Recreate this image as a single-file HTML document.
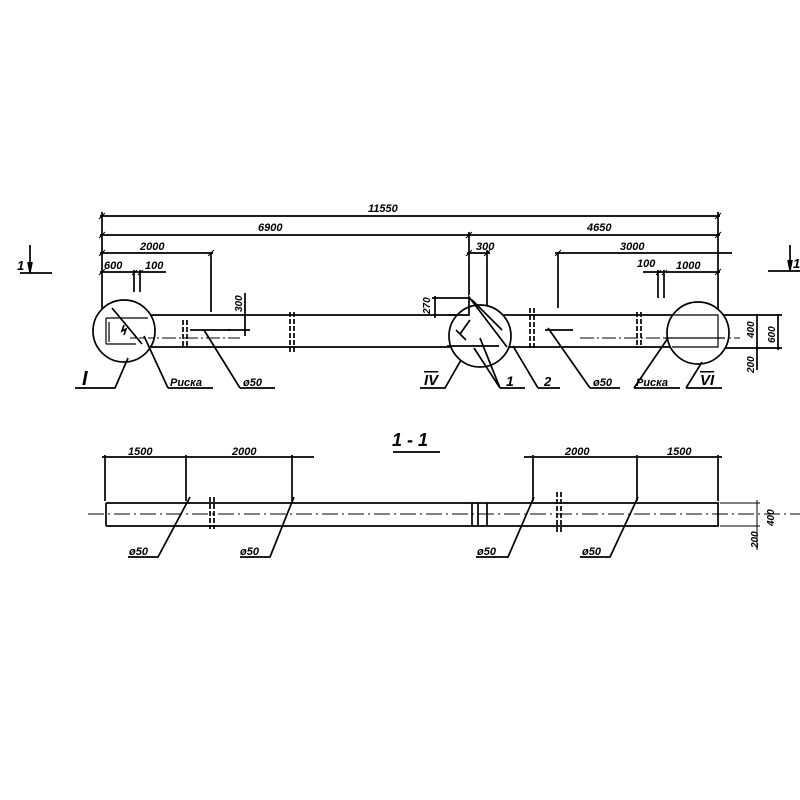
<!DOCTYPE html>
<html><head><meta charset="utf-8"><style>
html,body{margin:0;padding:0;background:#fff;width:800px;height:800px;overflow:hidden}
svg{display:block}
text{font-family:"Liberation Sans",sans-serif;font-style:italic;fill:#000;font-weight:bold}
</style></head><body>
<svg width="800" height="800" viewBox="0 0 800 800" stroke="#000" fill="none" stroke-width="1.7">
<!-- dimension lines top -->
<line x1="100" y1="216" x2="720" y2="216"/>
<line x1="100" y1="235" x2="720" y2="235"/>
<line x1="100" y1="253" x2="213" y2="253"/>
<line x1="100" y1="272" x2="166" y2="272"/>
<line x1="467" y1="253" x2="490" y2="253"/>
<line x1="555" y1="253" x2="732" y2="253"/>
<line x1="643" y1="272" x2="720" y2="272"/>
<line x1="102" y1="212" x2="102" y2="318"/>
<line x1="718" y1="212" x2="718" y2="316"/>
<line x1="211" y1="253" x2="211" y2="312"/>
<line x1="469" y1="232" x2="469" y2="295"/>
<line x1="487" y1="250" x2="487" y2="310"/>
<line x1="558" y1="253" x2="558" y2="308"/>
<line x1="134" y1="270" x2="134" y2="292"/><line x1="140" y1="270" x2="140" y2="292"/>
<line x1="658" y1="270" x2="658" y2="298"/><line x1="664" y1="270" x2="664" y2="298"/>
<g stroke-width="1"><path d="M99 219l6-6M99 238l6-6M99 256l6-6M99 275l6-6M715 219l6-6M715 238l6-6M715 275l6-6M208 256l6-6M466 238l6-6M466 256l6-6M484 256l6-6M555 256l6-6M132 275l5-5M138 275l5-5M656 275l5-5M662 275l5-5"/></g>
<text x="368" y="212" font-size="11" stroke="none">11550</text>
<text x="258" y="231" font-size="11" stroke="none">6900</text>
<text x="587" y="231" font-size="11" stroke="none">4650</text>
<text x="140" y="250" font-size="11" stroke="none">2000</text>
<text x="476" y="250" font-size="11" stroke="none">300</text>
<text x="620" y="250" font-size="11" stroke="none">3000</text>
<text x="104" y="269" font-size="11" stroke="none">600</text>
<text x="145" y="269" font-size="11" stroke="none">100</text>
<text x="637" y="267" font-size="11" stroke="none">100</text>
<text x="676" y="269" font-size="11" stroke="none">1000</text>
<!-- section marks -->
<line x1="20" y1="273" x2="52" y2="273"/><line x1="30" y1="245" x2="30" y2="273"/><path d="M28 262l2 10 2-10" fill="#000"/>
<text x="17" y="270" font-size="13" stroke="none">1</text>
<line x1="768" y1="271" x2="800" y2="271"/><line x1="790" y1="245" x2="790" y2="271"/><path d="M788 260l2 10 2-10" fill="#000"/>
<text x="793" y="268" font-size="13" stroke="none">1</text>
<!-- top beam -->
<line x1="103" y1="315" x2="720" y2="315"/>
<line x1="103" y1="347" x2="720" y2="347"/>
<line x1="103" y1="315" x2="103" y2="347"/>
<line x1="718" y1="315" x2="718" y2="347"/>
<path d="M183 320v28M187 320v28M290 312v42M294 312v42M530 308v42M534 308v42M637 312v36M641 312v36" stroke-dasharray="5 2"/>
<line x1="140" y1="338" x2="240" y2="338" stroke-dasharray="14 3 2 3" stroke-width="1"/>
<line x1="580" y1="338" x2="740" y2="338" stroke-dasharray="14 3 2 3" stroke-width="1"/>
<line x1="190" y1="330" x2="230" y2="330"/><line x1="545" y1="330" x2="573" y2="330"/>
<!-- 300/270 dims -->
<line x1="245" y1="293" x2="245" y2="336"/><line x1="228" y1="330" x2="250" y2="330"/>
<text transform="translate(242 312) rotate(-90)" font-size="10" stroke="none">300</text>
<line x1="432" y1="298" x2="470" y2="298"/><line x1="435" y1="296" x2="435" y2="318"/>
<text transform="translate(430 314) rotate(-90)" font-size="10" stroke="none">270</text>
<!-- right dims -->
<line x1="757" y1="314" x2="757" y2="350"/><line x1="778" y1="314" x2="778" y2="350"/>
<line x1="718" y1="315" x2="782" y2="315"/><line x1="720" y1="348" x2="782" y2="348"/>
<line x1="757" y1="348" x2="757" y2="370"/>
<text transform="translate(754 338) rotate(-90)" font-size="10" stroke="none">400</text>
<text transform="translate(775 343) rotate(-90)" font-size="10" stroke="none">600</text>
<text transform="translate(754 373) rotate(-90)" font-size="10" stroke="none">200</text>
<!-- circles -->
<circle cx="124" cy="331" r="31" fill="#fff"/>
<path d="M106 318h42M106 344h30M106 318v26M109 322v20" stroke-width="1.2"/>
<path d="M112 308l30 36M124 325l-2 6 4 -2 -2 6"/>
<line x1="130" y1="338" x2="155" y2="338" stroke-dasharray="6 3" stroke-width="1"/>
<circle cx="480" cy="336" r="31" fill="#fff"/>
<path d="M449 315h20v-18l38 50M472 300l30 30M447 346h52M470 320l-10 14M456 330l10 10"/>
<circle cx="698" cy="333" r="31" fill="#fff"/>
<path d="M672 315h46v32h-46M665 338h60" stroke-width="1.2"/>
<!-- leaders -->
<path d="M75 388h40l13-30" /><text x="82" y="385" font-size="20" font-style="normal" font-family="Liberation Serif" stroke="none">I</text>
<path d="M168 388h45M168 388l-24-52"/><text x="170" y="386" font-size="11" stroke="none">Риска</text>
<path d="M240 388h35M240 388l-36-58"/><text x="243" y="386" font-size="11" stroke="none">ø50</text>
<path d="M420 388h25l16-28"/><text x="424" y="385" font-size="15" font-style="normal" font-family="Liberation Serif" stroke="none" text-decoration="overline">IV</text>
<path d="M500 388h25M500 388l-26-40M500 388l-20-50"/><text x="506" y="386" font-size="14" stroke="none">1</text>
<path d="M538 388h22M538 388l-25-42"/><text x="544" y="386" font-size="13" stroke="none">2</text>
<path d="M590 388h30M590 388l-42-60"/><text x="593" y="386" font-size="11" stroke="none">ø50</text>
<path d="M634 388h46M634 388l34-50"/><text x="636" y="386" font-size="11" stroke="none">Риска</text>
<path d="M686 388h36M686 388l16-26"/><text x="700" y="385" font-size="15" font-style="normal" font-family="Liberation Serif" stroke="none" text-decoration="overline">VI</text>
<!-- 1-1 -->
<text x="392" y="446" font-size="18" stroke="none">1 - 1</text>
<line x1="393" y1="452" x2="440" y2="452"/>
<!-- bottom dims -->
<line x1="102" y1="457" x2="314" y2="457"/>
<line x1="524" y1="457" x2="722" y2="457"/>
<path d="M105 455v46M186 455v46M292 455v46M533 455v46M637 455v46M718 455v46"/>
<text x="128" y="455" font-size="11" stroke="none">1500</text>
<text x="232" y="455" font-size="11" stroke="none">2000</text>
<text x="565" y="455" font-size="11" stroke="none">2000</text>
<text x="667" y="455" font-size="11" stroke="none">1500</text>
<!-- bottom beam -->
<path d="M106 503H719M106 526H719M106 503v23M718 503v23M472 503v23M478 503v23M487 503v23"/>
<path d="M210 497v32M214 497v32M557 492v40M561 492v40" stroke-dasharray="5 2"/>
<line x1="88" y1="514" x2="800" y2="514" stroke-dasharray="16 4 2 4" stroke-width="1"/>
<path d="M720 503h40M720 526h40M757 500v32M757 526v24" stroke-width="1"/>
<text transform="translate(774 526) rotate(-90)" font-size="10" stroke="none">400</text>
<text transform="translate(758 548) rotate(-90)" font-size="10" stroke="none">200</text>
<!-- bottom leaders -->
<path d="M128 557h30l32-60M240 557h30l24-60M476 557h32l26-60M580 557h30l28-60"/>
<text x="129" y="555" font-size="11" stroke="none">ø50</text>
<text x="240" y="555" font-size="11" stroke="none">ø50</text>
<text x="477" y="555" font-size="11" stroke="none">ø50</text>
<text x="582" y="555" font-size="11" stroke="none">ø50</text>
</svg>
</body></html>
